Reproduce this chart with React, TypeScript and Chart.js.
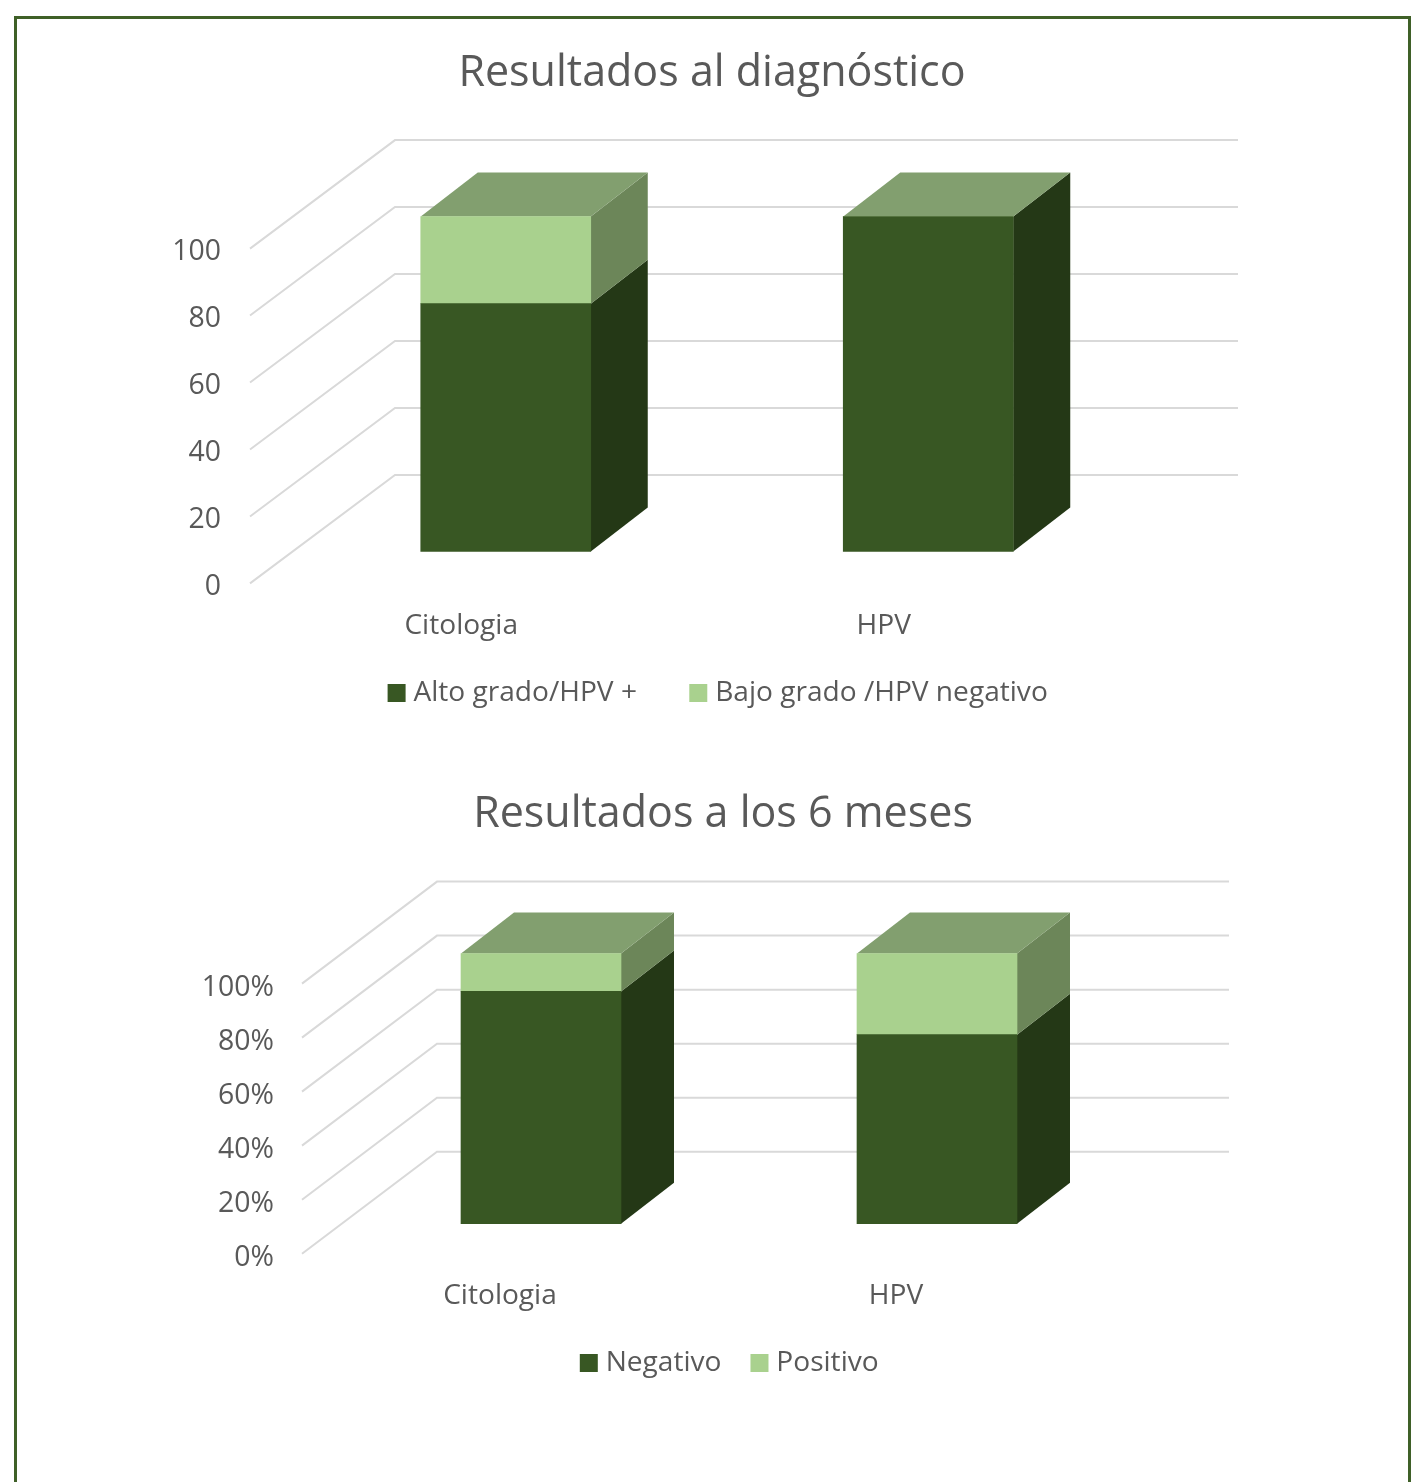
import React, { useEffect, useRef } from "react";
import { Chart, registerables } from "chart.js";

Chart.register(...registerables);

const FONT = "'Open Sans', 'Noto Sans', sans-serif";
const TEXT = "#595959";
const GRID = "#D9D9D9";

const DARK = "#385723";
const LIGHT = "#A9D18E";
const SIDE_DARK = "#243816";
const SIDE_LIGHT = "#6C8659";
const TOP_FACE = "#829F6F";

const categories = ["Citologia", "HPV"];

const diagTitle = "Resultados al diagnóstico";
const diagSeries1Name = "Alto grado/HPV +";
const diagSeries2Name = "Bajo grado /HPV negativo";
const diagSeries1 = [74, 100];
const diagSeries2 = [26, 0];

const sixTitle = "Resultados a los 6 meses";
const sixSeries1Name = "Negativo";
const sixSeries2Name = "Positivo";
const sixSeries1 = [86, 70];
const sixSeries2 = [14, 30];

const box3d = {
  id: "box3d",
  beforeDatasetsDraw(chart: any, _a: any, o: any) {
    const { ctx } = chart;
    const x = chart.scales.x;
    const y = chart.scales.y;
    ctx.save();
    ctx.strokeStyle = GRID;
    ctx.lineWidth = 2;
    y.ticks.forEach((t: any) => {
      const py = y.getPixelForValue(t.value);
      ctx.beginPath();
      ctx.moveTo(x.left, py);
      ctx.lineTo(x.left + o.floorX, py - o.floorY);
      ctx.lineTo(x.right + o.floorX - o.trim, py - o.floorY);
      ctx.stroke();
    });
    ctx.restore();

    ctx.save();
    ctx.translate(o.shiftX, o.shiftY);
    const face = (pts: number[][], color: string) => {
      ctx.fillStyle = color;
      ctx.beginPath();
      pts.forEach((p, i) => (i ? ctx.lineTo(p[0], p[1]) : ctx.moveTo(p[0], p[1])));
      ctx.closePath();
      ctx.fill();
    };
    const sides = [SIDE_DARK, SIDE_LIGHT];
    categories.forEach((_c, i) => {
      let topY = Infinity;
      let l = 0;
      let r = 0;
      chart.data.datasets.forEach((ds: any, d: number) => {
        if (!ds.data[i]) return;
        const el = chart.getDatasetMeta(d).data[i];
        l = el.x - el.width / 2;
        r = el.x + el.width / 2;
        face(
          [
            [r, el.y],
            [r + o.depthX, el.y - o.depthY],
            [r + o.depthX, el.base - o.depthY],
            [r, el.base],
          ],
          sides[d]
        );
        topY = Math.min(topY, el.y);
      });
      face(
        [
          [l, topY],
          [l + o.depthX, topY - o.depthY],
          [r + o.depthX, topY - o.depthY],
          [r, topY],
        ],
        TOP_FACE
      );
    });
    ctx.restore();

    ctx.save();
    ctx.translate(o.shiftX, o.shiftY);
  },
  afterDatasetsDraw(chart: any) {
    chart.ctx.restore();
  },
  beforeDraw(chart: any, _a: any, o: any) {
    // the value labels sit slightly lower than the canvas "middle" baseline
    const items = chart.scales.y.getLabelItems();
    if (!items._moved) {
      items.forEach((it: any) => {
        it.options.translation[1] += o.yLabelShift;
      });
      items._moved = true;
    }
  },
  afterLayout(chart: any, _a: any, o: any) {
    // title centre, independent of the plot padding
    chart.titleBlock.left = 0;
    chart.titleBlock.right = chart.width;
    // legend row position
    const lg = chart.legend;
    const pad = lg.options.labels.padding;
    const h = lg.height;
    lg.top = o.legendY - pad - lg.options.labels.font.size / 2;
    lg.bottom = lg.top + h;
    lg.left = 0;
    lg.right = 2 * o.legendX - pad + lg.lineWidths[0];
  },
};

type PanelProps = {
  title: string;
  names: string[];
  series: number[][];
  suffix: string;
  left: number;
  top: number;
  width: number;
  height: number;
  areaLeft: number;
  areaRight: number;
  titlePad: { top: number; bottom: number };
  barWidth: number;
  xPad: number;
  yPad: number;
  legendPad: number;
  legendX: number;
  legendY: number;
  geom: any;
};

function Panel(p: PanelProps) {
  const ref = useRef<HTMLCanvasElement>(null);
  useEffect(() => {
    const colors = [DARK, LIGHT];
    const chart = new Chart(ref.current as HTMLCanvasElement, {
      type: "bar",
      data: {
        labels: categories,
        datasets: p.series.map((data, i) => ({
          label: p.names[i],
          data,
          backgroundColor: colors[i],
          borderWidth: 0,
          barThickness: p.barWidth,
          clip: false,
        })),
      },
      plugins: [box3d],
      options: {
        animation: false,
        responsive: false,
        devicePixelRatio: 1,
        layout: { padding: { left: p.areaLeft - 100, right: p.width - p.areaRight, top: 0, bottom: 0 } },
        scales: {
          x: {
            stacked: true,
            grid: { display: false, drawTicks: false },
            border: { display: false },
            afterFit: (s: any) => {
              s.height = 60;
            },
            ticks: {
              color: TEXT,
              padding: p.xPad,
              font: { family: FONT, size: 28.1 },
              maxRotation: 0,
              autoSkip: false,
            },
          },
          y: {
            stacked: true,
            min: 0,
            max: 100,
            grid: { display: false, drawTicks: false },
            border: { display: false },
            afterFit: (s: any) => {
              s.width = 100;
            },
            ticks: {
              stepSize: 20,
              color: TEXT,
              padding: p.yPad,
              font: { family: FONT, size: 28.4 },
              callback: (v: any) => `${v}${p.suffix}`,
            },
          },
        },
        plugins: {
          box3d: { ...p.geom, legendX: p.legendX, legendY: p.legendY },
          tooltip: { enabled: false },
          title: {
            display: true,
            text: p.title,
            color: TEXT,
            padding: p.titlePad,
            font: { family: FONT, size: 43, weight: "normal", lineHeight: 1.2 },
          },
          legend: {
            display: true,
            position: "bottom",
            labels: {
              color: TEXT,
              font: { family: FONT, size: 28.1 },
              boxWidth: 5.6,
              boxHeight: 5.6,
              padding: p.legendPad,
              generateLabels: (c: any) =>
                c.data.datasets.map((d: any, i: number) => ({
                  text: d.label,
                  fillStyle: d.backgroundColor,
                  strokeStyle: d.backgroundColor,
                  lineWidth: 12.4,
                  fontColor: TEXT,
                  datasetIndex: i,
                })),
            },
          },
        },
      },
    } as any);
    return () => chart.destroy();
  }, []);
  return (
    <canvas
      ref={ref}
      width={p.width}
      height={p.height}
      style={{ position: "absolute", left: p.left, top: p.top, width: p.width, height: p.height }}
    />
  );
}

export default function App() {
  return (
    <div
      style={{
        position: "absolute",
        left: 0,
        top: 0,
        width: 1424,
        height: 1482,
        overflow: "hidden",
        background: "#fff",
      }}
    >
      <div
        style={{
          position: "absolute",
          left: 14,
          top: 16,
          width: 1391,
          height: 1500,
          border: "3px solid #3F6028",
        }}
      />
      <Panel
        title={diagTitle}
        names={[diagSeries1Name, diagSeries2Name]}
        series={[diagSeries1, diagSeries2]}
        suffix=""
        left={0}
        top={0}
        width={1424}
        height={740}
        areaLeft={250}
        areaRight={1095}
        titlePad={{ top: 48, bottom: 149 }}
        barWidth={170}
        xPad={26}
        yPad={29}
        legendPad={58.5}
        legendX={393.8}
        legendY={693}
        geom={{ floorX: 145, floorY: 108.5, depthX: 57, depthY: 44, shiftX: 44.5, shiftY: -32, trim: 2, yLabelShift: 3.5 }}
      />
      <Panel
        title={sixTitle}
        names={[sixSeries1Name, sixSeries2Name]}
        series={[sixSeries1, sixSeries2]}
        suffix="%"
        left={22}
        top={740}
        width={1402}
        height={647}
        areaLeft={280}
        areaRight={1072}
        titlePad={{ top: 49, bottom: 143 }}
        barWidth={160}
        xPad={25}
        yPad={28}
        legendPad={35.2}
        legendX={564}
        legendY={623}
        geom={{ floorX: 135, floorY: 102, depthX: 53, depthY: 41, shiftX: 41, shiftY: -30, trim: 0, yLabelShift: 4 }}
      />
    </div>
  );
}
